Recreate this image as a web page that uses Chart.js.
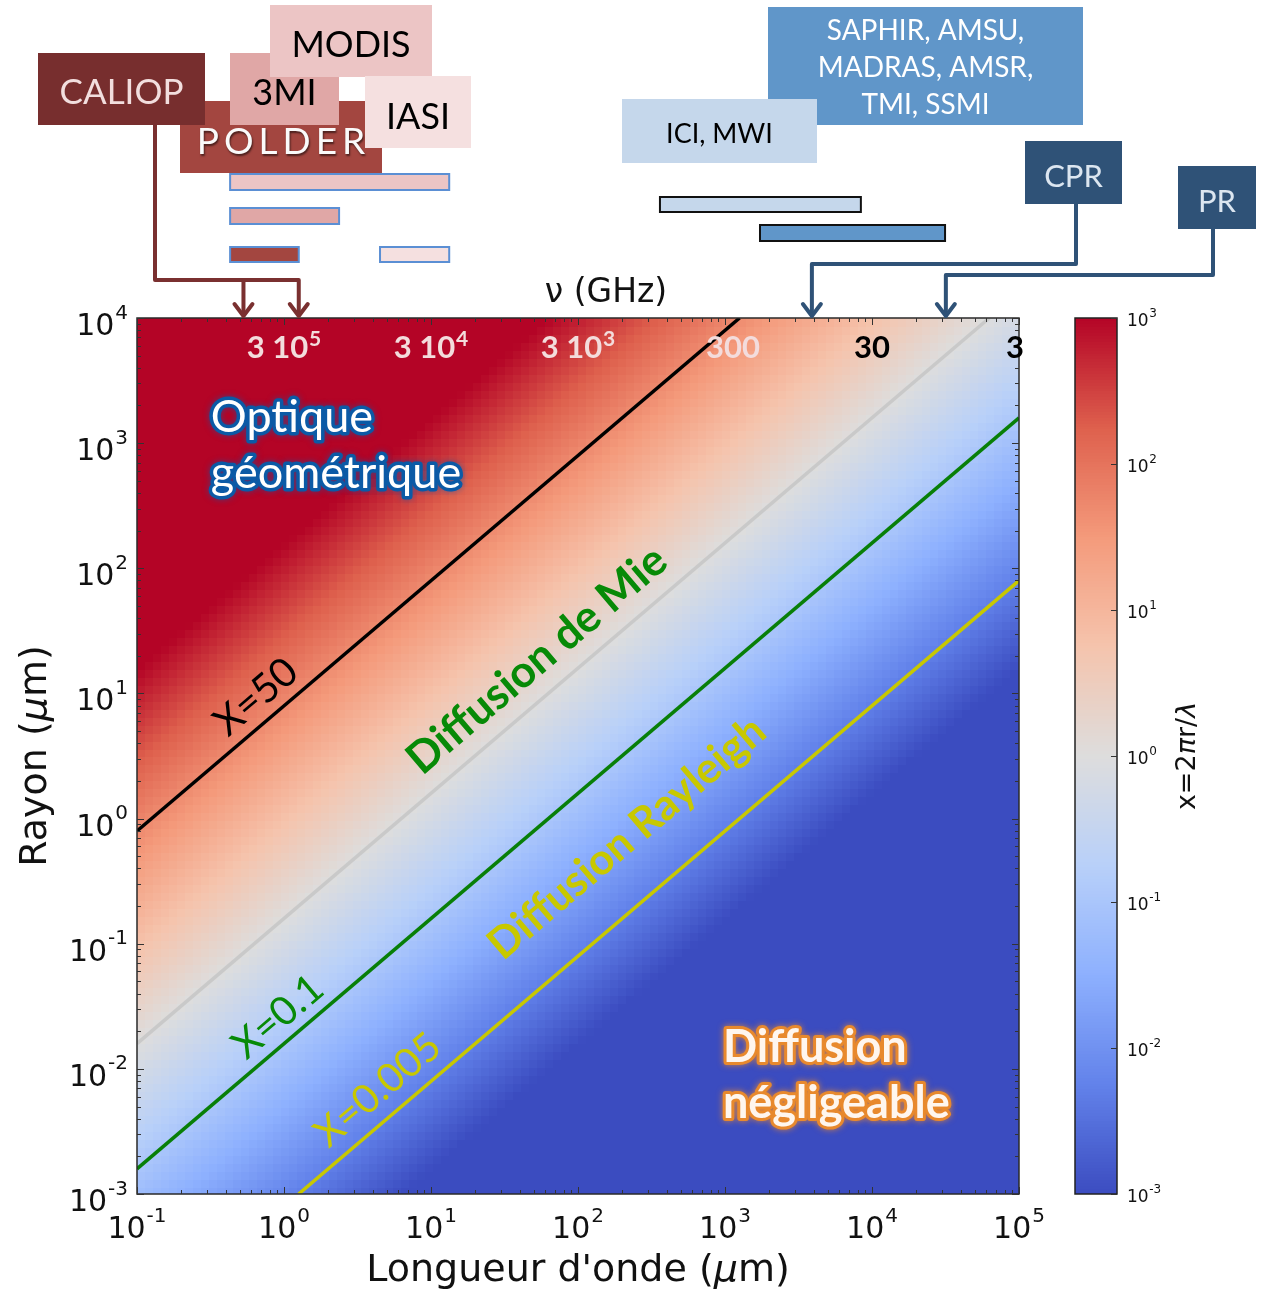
<!DOCTYPE html>
<html>
<head>
<meta charset="utf-8">
<script src="https://cdn.jsdelivr.net/npm/chart.js@4/dist/chart.umd.min.js"></script>
<style>
  html, body { margin: 0; padding: 0; background: #fff; }
</style>
</head>
<body>
<canvas id="grafico" width="1262" height="1289"></canvas>
<script>
// ---- donnees ----
const lambdaLimites = [0.1, 1e5];      // longueur d'onde (µm)
const rayonLimites = [1e-3, 1e4];      // rayon (µm)
const xLimites = [1e-3, 1e3];          // parametre de taille x = 2πr/λ

const lambdaTicks = [0.1, 1, 10, 100, 1e3, 1e4, 1e5];
const lambdaExp = ['-1', '0', '1', '2', '3', '4', '5'];
const rayonTicks = [1e-3, 1e-2, 0.1, 1, 10, 100, 1e3, 1e4];
const rayonExp = ['-3', '-2', '-1', '0', '1', '2', '3', '4'];
const cbTicks = [1e-3, 1e-2, 0.1, 1, 10, 100, 1e3];
const cbExp = ['-3', '-2', '-1', '0', '1', '2', '3'];

// frequences (GHz) affichees en haut
const freqLambda = [1, 10, 100, 1e3, 1e4, 1e5];
const freqBase = ['3 10', '3 10', '3 10', '300', '30', '3'];
const freqExp = ['5', '4', '3', '', '', ''];

// lignes x = constante
const ligneX50 = [{x: 0.1, y: 0.796}, {x: 1257, y: 1e4}];
const ligneX1 = [{x: 0.1, y: 0.0159}, {x: 62830, y: 1e4}];
const ligneX01 = [{x: 0.1, y: 0.00159}, {x: 1e5, y: 1592}];
const ligneX0005 = [{x: 1.257, y: 1e-3}, {x: 1e5, y: 79.6}];

// instruments : bandes en longueur d'onde (µm)
const bandesOptique = [[0.43, 13.3], [0.43, 2.37], [0.43, 1.26], [4.5, 13.3]];
const bandesMicro = [[361, 8400], [1730, 31400]];
const caliopLambda = [0.53, 1.26];
const cprLambda = 3900;
const prLambda = 31800;

const nCellules = 110;

// colormap coolwarm
const coolwarm = [[59,76,192],[98,130,234],[141,176,254],[184,208,249],[221,221,221],
                  [245,196,173],[244,154,123],[222,96,77],[180,4,38]];
function couleur(t) {
    t = Math.max(0, Math.min(1, t));
    const p = t * (coolwarm.length - 1);
    const i = Math.min(Math.floor(p), coolwarm.length - 2);
    const f = p - i;
    const a = coolwarm[i], b = coolwarm[i + 1];
    return 'rgb(' + Math.round(a[0] + (b[0] - a[0]) * f) + ',' +
        Math.round(a[1] + (b[1] - a[1]) * f) + ',' + Math.round(a[2] + (b[2] - a[2]) * f) + ')';
}
function normX(v) {
    const l0 = Math.log10(xLimites[0]), l1 = Math.log10(xLimites[1]);
    return (Math.log10(v) - l0) / (l1 - l0);
}

const DV = '"DejaVu Sans"';
const CAL = 'Lato';

function puissance(ctx, base, exp, x, y, taille, align, famille, poids, monte) {
    const f1 = (poids || 'normal') + ' ' + taille + 'px ' + famille;
    const f2 = (poids || 'normal') + ' ' + Math.round(taille * 0.68) + 'px ' + famille;
    ctx.font = f1; const w1 = ctx.measureText(base).width;
    ctx.font = f2; const w2 = exp ? ctx.measureText(exp).width : 0;
    const gap = exp ? taille * 0.03 : 0;
    const w = w1 + w2 + gap;
    const x0 = align === 'center' ? x - w / 2 : align === 'right' ? x - w : x;
    ctx.textAlign = 'left'; ctx.textBaseline = 'alphabetic';
    ctx.font = f1; ctx.fillText(base, x0, y);
    if (exp) { ctx.font = f2; ctx.fillText(exp, x0 + w1 + gap, y - taille * (monte || 0.55)); }
    return w;
}

// texte en morceaux (normal / italique), centre
function texteMorceaux(ctx, morceaux, cx, cy, taille) {
    let w = 0;
    morceaux.forEach(m => { ctx.font = (m[1] ? 'italic ' : '') + taille + 'px ' + DV; w += ctx.measureText(m[0]).width; });
    let x = cx - w / 2;
    ctx.textAlign = 'left'; ctx.textBaseline = 'alphabetic';
    morceaux.forEach(m => {
        ctx.font = (m[1] ? 'italic ' : '') + taille + 'px ' + DV;
        ctx.fillText(m[0], x, cy);
        x += ctx.measureText(m[0]).width;
    });
}

function texteIncline(ctx, txt, cx, cy, angle, font, coul) {
    ctx.save();
    ctx.translate(cx, cy);
    ctx.rotate(-angle);
    ctx.font = font; ctx.fillStyle = coul;
    ctx.textAlign = 'center'; ctx.textBaseline = 'middle';
    ctx.fillText(txt, 0, 0);
    ctx.restore();
}

function texteContour(ctx, txt, x, y, font, remplissage, contour, epaisseur, lueur) {
    ctx.save();
    ctx.font = font; ctx.textAlign = 'left'; ctx.textBaseline = 'alphabetic';
    ctx.lineJoin = 'round';
    if (lueur) { ctx.shadowColor = lueur; ctx.shadowBlur = 6; }
    ctx.lineWidth = epaisseur; ctx.strokeStyle = contour;
    ctx.strokeText(txt, x, y);
    ctx.shadowBlur = 0; ctx.shadowColor = 'transparent';
    ctx.fillStyle = remplissage;
    ctx.fillText(txt, x, y);
    ctx.restore();
}

function boite(ctx, x0, y0, x1, y1, fond, lignes, coulTexte, taille, yTexte, espacement) {
    ctx.fillStyle = fond;
    ctx.fillRect(x0, y0, x1 - x0, y1 - y0);
    ctx.save();
    ctx.fillStyle = coulTexte;
    ctx.font = taille + 'px ' + CAL;
    ctx.textAlign = 'center'; ctx.textBaseline = 'middle';
    if (espacement) {
        ctx.letterSpacing = espacement + 'px';
        ctx.shadowColor = 'rgba(0,0,0,0.55)'; ctx.shadowOffsetX = 1; ctx.shadowOffsetY = 2; ctx.shadowBlur = 2;
    }
    const cx = (x0 + x1) / 2 + (espacement ? espacement / 2 : 0);
    lignes.forEach((l, i) => ctx.fillText(l, cx, yTexte[i]));
    ctx.restore();
}

function fleche(ctx, x, yBout, coul) {
    ctx.strokeStyle = coul; ctx.lineWidth = 4; ctx.lineCap = 'round'; ctx.lineJoin = 'round';
    ctx.beginPath();
    ctx.moveTo(x - 9, yBout - 14); ctx.lineTo(x, yBout - 2); ctx.lineTo(x + 9, yBout - 14);
    ctx.stroke();
}

// fond : carte x = 2πr/λ
const carte = {
    id: 'carte',
    beforeDatasetsDraw(chart) {
        const ctx = chart.ctx, a = chart.chartArea;
        const sx = chart.scales.x, sy = chart.scales.y;
        const lx0 = Math.log10(lambdaLimites[0]), dx = (Math.log10(lambdaLimites[1]) - lx0) / nCellules;
        const ly0 = Math.log10(rayonLimites[0]), dy = (Math.log10(rayonLimites[1]) - ly0) / nCellules;
        ctx.save();
        ctx.beginPath(); ctx.rect(a.left, a.top, a.right - a.left, a.bottom - a.top); ctx.clip();
        for (let i = 0; i < nCellules; i++) {
            const xa = Math.floor(sx.getPixelForValue(Math.pow(10, lx0 + i * dx)));
            const xb = Math.ceil(sx.getPixelForValue(Math.pow(10, lx0 + (i + 1) * dx)));
            const lc = Math.pow(10, lx0 + (i + 0.5) * dx);
            for (let j = 0; j < nCellules; j++) {
                const ya = Math.floor(sy.getPixelForValue(Math.pow(10, ly0 + (j + 1) * dy)));
                const yb = Math.ceil(sy.getPixelForValue(Math.pow(10, ly0 + j * dy)));
                const rc = Math.pow(10, ly0 + (j + 0.5) * dy);
                ctx.fillStyle = couleur(normX(2 * Math.PI * rc / lc));
                ctx.fillRect(xa, ya, xb - xa + 1, yb - ya + 1);
            }
        }
        ctx.restore();
    }
};

const habillage = {
    id: 'habillage',
    afterDraw(chart) {
        const ctx = chart.ctx, a = chart.chartArea;
        const sx = chart.scales.x, sy = chart.scales.y, cb = chart.scales.cb;
        const px = v => sx.getPixelForValue(v), py = v => sy.getPixelForValue(v);
        ctx.save();

        // cadre + graduations
        ctx.strokeStyle = '#2a2a2a'; ctx.lineWidth = 1.5;
        ctx.strokeRect(a.left, a.top, a.right - a.left, a.bottom - a.top);
        ctx.lineWidth = 1; ctx.strokeStyle = '#333';
        ctx.beginPath();
        for (let d = -1; d <= 5; d++) {
            for (let k = 1; k <= 9; k++) {
                const v = k * Math.pow(10, d);
                if (v > lambdaLimites[1] * 1.001) break;
                const x = Math.round(px(v)) + 0.5, L = k === 1 ? 7 : 4;
                ctx.moveTo(x, a.bottom); ctx.lineTo(x, a.bottom - L);
                ctx.moveTo(x, a.top); ctx.lineTo(x, a.top + L);
            }
        }
        for (let d = -3; d <= 4; d++) {
            for (let k = 1; k <= 9; k++) {
                const v = k * Math.pow(10, d);
                if (v > rayonLimites[1] * 1.001) break;
                const y = Math.round(py(v)) + 0.5, L = k === 1 ? 7 : 4;
                ctx.moveTo(a.left, y); ctx.lineTo(a.left + L, y);
                ctx.moveTo(a.right, y); ctx.lineTo(a.right - L, y);
            }
        }
        ctx.stroke();

        // etiquettes des axes
        ctx.fillStyle = '#111';
        lambdaTicks.forEach((v, i) => puissance(ctx, '10', lambdaExp[i], px(v), a.bottom + 44, 30, 'center', DV));
        rayonTicks.forEach((v, i) => puissance(ctx, '10', rayonExp[i], 128, py(v) + 17, 30, 'right', DV));
        texteMorceaux(ctx, [["Longueur d'onde (", false], ['μ', true], ['m)', false]], (a.left + a.right) / 2, 1281, 38);
        ctx.save();
        ctx.translate(46, (a.top + a.bottom) / 2); ctx.rotate(-Math.PI / 2);
        texteMorceaux(ctx, [['Rayon (', false], ['μ', true], ['m)', false]], 0, 0, 38);
        ctx.restore();
        ctx.font = '33px ' + DV; ctx.textAlign = 'center'; ctx.textBaseline = 'alphabetic';
        ctx.fillText('ν (GHz)', 606, 302);

        // frequences
        freqLambda.forEach((v, i) => {
            ctx.fillStyle = i < 4 ? '#f3dcdc' : '#000';
            let cx = px(v);
            if (i === 3) cx += 8;
            if (i === 5) cx -= 4;
            puissance(ctx, freqBase[i], freqExp[i], cx, a.top + 40, 31, 'center', CAL, 'bold', 0.38);
        });

        // textes dans le graphique
        const ang = Math.atan((py(1) - py(10)) / (px(10) - px(1)));
        texteContour(ctx, 'Optique', px(0.318), py(1227), '45px ' + CAL, '#fff', '#0b5aa6', 7, 'rgba(11,90,166,0.6)');
        texteContour(ctx, 'géométrique', px(0.318), py(437), '45px ' + CAL, '#fff', '#0b5aa6', 7, 'rgba(11,90,166,0.6)');
        texteContour(ctx, 'Diffusion', px(968), py(0.01135), 'bold 45px ' + CAL, '#fff6ee', '#e8892d', 6, 'rgba(240,140,40,0.8)');
        texteContour(ctx, 'négligeable', px(968), py(0.01135) + 56, 'bold 45px ' + CAL, '#fff6ee', '#e8892d', 6, 'rgba(240,140,40,0.8)');
        texteIncline(ctx, 'X=50', px(0.645), py(9.36), ang, '40px ' + CAL, '#000');
        texteIncline(ctx, 'Diffusion de Mie', px(52.6), py(18.5), ang, 'bold 44px ' + CAL, '#078a07');
        texteIncline(ctx, 'X=0.1', px(0.91), py(0.026), ang, '40px ' + CAL, '#078a07');
        texteIncline(ctx, 'Diffusion Rayleigh', px(215), py(0.70), ang, 'bold 43px ' + CAL, '#c8c800');
        texteIncline(ctx, 'X=0.005', px(4.35), py(0.00678), ang, '40px ' + CAL, '#c8c800');

        // barre de couleur
        const cbG = 1075, cbD = 1117;
        const n = 300, l0 = Math.log10(xLimites[0]), l1 = Math.log10(xLimites[1]);
        for (let k = 0; k < n; k++) {
            const va = Math.pow(10, l0 + (l1 - l0) * k / n), vb = Math.pow(10, l0 + (l1 - l0) * (k + 1) / n);
            const ya = cb.getPixelForValue(vb), yb = cb.getPixelForValue(va);
            ctx.fillStyle = couleur((k + 0.5) / n);
            ctx.fillRect(cbG, Math.floor(ya), cbD - cbG, Math.ceil(yb) - Math.floor(ya));
        }
        ctx.strokeStyle = '#222'; ctx.lineWidth = 1.5;
        ctx.strokeRect(cbG, cb.top, cbD - cbG, cb.bottom - cb.top);
        ctx.lineWidth = 1; ctx.strokeStyle = '#333';
        ctx.beginPath();
        cbTicks.forEach(v => { const y = Math.round(cb.getPixelForValue(v)) + 0.5; ctx.moveTo(cbD, y); ctx.lineTo(cbD - 6, y); });
        ctx.stroke();
        ctx.fillStyle = '#111';
        cbTicks.forEach((v, i) => puissance(ctx, '10', cbExp[i], 1127, cb.getPixelForValue(v) + 8, 17, 'left', DV));
        ctx.save();
        ctx.translate(1195, (cb.top + cb.bottom) / 2); ctx.rotate(-Math.PI / 2);
        ctx.fillStyle = '#111';
        texteMorceaux(ctx, [['x=2', false], ['π', true], ['r/', false], ['λ', true]], 0, 0, 27);
        ctx.restore();

        // instruments : bandes
        const coulOptique = ['#ecc5c5', '#e0a7a6', '#a34640', '#f5e0e0'];
        const yOptique = [[174, 190], [208, 224], [247, 262], [247, 262]];
        bandesOptique.forEach((b, i) => {
            const x0 = px(b[0]), x1 = px(b[1]);
            ctx.fillStyle = coulOptique[i];
            ctx.fillRect(x0, yOptique[i][0], x1 - x0, yOptique[i][1] - yOptique[i][0]);
            ctx.strokeStyle = '#5b8fd4'; ctx.lineWidth = 2;
            ctx.strokeRect(x0, yOptique[i][0], x1 - x0, yOptique[i][1] - yOptique[i][0]);
        });
        const coulMicro = ['#c5d7eb', '#6096c9'];
        const yMicro = [[197, 212], [225, 241]];
        bandesMicro.forEach((b, i) => {
            const x0 = px(b[0]), x1 = px(b[1]);
            ctx.fillStyle = coulMicro[i];
            ctx.fillRect(x0, yMicro[i][0], x1 - x0, yMicro[i][1] - yMicro[i][0]);
            ctx.strokeStyle = '#111'; ctx.lineWidth = 2;
            ctx.strokeRect(x0, yMicro[i][0], x1 - x0, yMicro[i][1] - yMicro[i][0]);
        });

        // fleches
        const rouge = '#7a3030', bleu = '#2f5277';
        ctx.strokeStyle = rouge; ctx.lineWidth = 4; ctx.lineJoin = 'round';
        const xc = caliopLambda.map(px);
        ctx.beginPath();
        ctx.moveTo(155, 120); ctx.lineTo(155, 280); ctx.lineTo(xc[1], 280); ctx.lineTo(xc[1], a.top - 3);
        ctx.moveTo(xc[0], 280); ctx.lineTo(xc[0], a.top - 3);
        ctx.stroke();
        xc.forEach(x => fleche(ctx, x, a.top, rouge));
        ctx.strokeStyle = bleu; ctx.lineWidth = 4;
        const xcpr = px(cprLambda), xpr = px(prLambda);
        ctx.beginPath();
        ctx.moveTo(1076, 200); ctx.lineTo(1076, 264); ctx.lineTo(xcpr, 264); ctx.lineTo(xcpr, a.top - 3);
        ctx.moveTo(1213, 225); ctx.lineTo(1213, 275); ctx.lineTo(xpr, 275); ctx.lineTo(xpr, a.top - 3);
        ctx.stroke();
        fleche(ctx, xcpr, a.top, bleu);
        fleche(ctx, xpr, a.top, bleu);

        // boites des instruments
        boite(ctx, 180, 101, 382, 173, '#a34640', ['POLDER'], '#fafafa', 37, [142], 5);
        boite(ctx, 230, 53, 339, 125, '#e0a7a6', ['3MI'], '#000', 36, [93]);
        boite(ctx, 270, 5, 432, 77, '#ecc5c5', ['MODIS'], '#000', 36, [45]);
        boite(ctx, 38, 53, 205, 125, '#772e2e', ['CALIOP'], '#f2dede', 35, [93]);
        boite(ctx, 365, 76, 471, 148, '#f5e0e0', ['IASI'], '#000', 36, [117]);
        boite(ctx, 768, 7, 1083, 125, '#6096c9', ['SAPHIR, AMSU,', 'MADRAS, AMSR,', 'TMI, SSMI'], '#fff', 28, [31, 68, 105]);
        boite(ctx, 622, 99, 817, 163, '#c5d7eb', ['ICI, MWI'], '#000', 27, [134]);
        boite(ctx, 1025, 141, 1122, 204, '#2f5277', ['CPR'], '#dce6f0', 31, [177]);
        boite(ctx, 1178, 166, 1256, 229, '#2f5277', ['PR'], '#dce6f0', 31, [202]);

        ctx.restore();
    }
};

const ctx = document.getElementById('grafico').getContext('2d');
new Chart(ctx, {
    type: 'scatter',
    data: {
        datasets: [
            { label: 'X=50', data: ligneX50, borderColor: '#000', borderWidth: 3.5 },
            { label: 'X=1', data: ligneX1, borderColor: '#c9c9c9', borderWidth: 3.5 },
            { label: 'X=0.1', data: ligneX01, borderColor: '#087f08', borderWidth: 3.5 },
            { label: 'X=0.005', data: ligneX0005, borderColor: '#c8c800', borderWidth: 3.5 }
        ].map(d => Object.assign(d, { showLine: true, pointRadius: 0, tension: 0, fill: false }))
    },
    options: {
        responsive: false,
        animation: false,
        events: [],
        layout: { padding: { left: 137, top: 318, right: 243, bottom: 95 } },
        plugins: { legend: { display: false }, tooltip: { enabled: false } },
        scales: {
            x: { type: 'logarithmic', min: lambdaLimites[0], max: lambdaLimites[1], display: false },
            y: { type: 'logarithmic', min: rayonLimites[0], max: rayonLimites[1], display: false },
            cb: { type: 'logarithmic', position: 'right', min: xLimites[0], max: xLimites[1], display: false }
        }
    },
    plugins: [carte, habillage]
});
</script>
</body>
</html>
